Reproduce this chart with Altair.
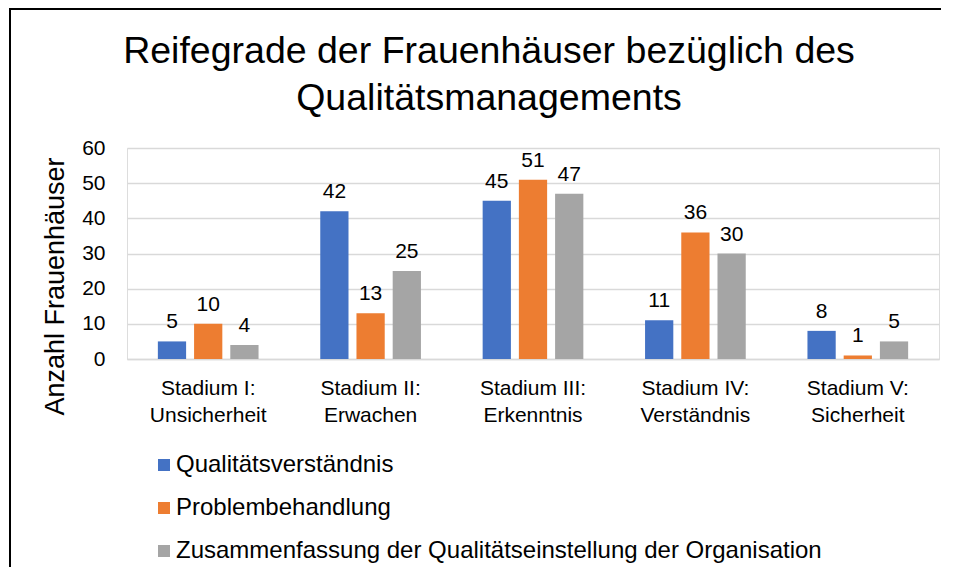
import altair as alt
import pandas as pd

categories = ["Stadium I: Unsicherheit", "Stadium II: Erwachen", "Stadium III: Erkenntnis",
              "Stadium IV: Verständnis", "Stadium V: Sicherheit"]
series = ["Qualitätsverständnis", "Problembehandlung",
          "Zusammenfassung der Qualitätseinstellung der Organisation"]
qualitaetsverstaendnis = [5, 42, 45, 11, 8]
problembehandlung = [10, 13, 51, 36, 1]
zusammenfassung = [4, 25, 47, 30, 5]
colors = ["#4472C4", "#ED7D31", "#A5A5A5"]
y_ticks = [0, 10, 20, 30, 40, 50, 60]

rows = []
for s, vals in zip(series, [qualitaetsverstaendnis, problembehandlung, zusammenfassung]):
    for c, v in zip(categories, vals):
        rows.append({"Stadium": c, "Serie": s, "Wert": v})
df = pd.DataFrame(rows)

FONT = "Liberation Sans"

x_enc = alt.X("Stadium:N", sort=categories,
              scale=alt.Scale(paddingInner=0.38, paddingOuter=0.19),
              axis=alt.Axis(title=None, labelAngle=0, ticks=False, domain=True,
                            domainColor="#d9d9d9", domainWidth=1.5,
                            labelFontSize=21, labelFont=FONT, labelColor="#000000",
                            labelPadding=18, labelLineHeight=27,
                            labelExpr="[slice(datum.label, 0, indexof(datum.label, ':') + 1), slice(datum.label, indexof(datum.label, ':') + 2)]"))
xoff_enc = alt.XOffset("Serie:N", sort=series,
                       scale=alt.Scale(paddingInner=0.22, paddingOuter=0))
y_enc = alt.Y("Wert:Q", scale=alt.Scale(domain=[0, 60], nice=False),
              axis=alt.Axis(title="Anzahl Frauenhäuser", values=y_ticks, ticks=False,
                            domain=False, grid=True, gridColor="#d9d9d9", gridWidth=1.5,
                            labelFontSize=21, labelFont=FONT, labelColor="#000000",
                            labelPadding=22, labelOverlap=False,
                            titleFontSize=27, titleFont=FONT,
                            titleFontWeight="normal", titleColor="#000000",
                            titlePadding=12, titleY=138))

bars = alt.Chart(df).mark_bar().encode(
    x=x_enc, xOffset=xoff_enc, y=y_enc,
    color=alt.Color("Serie:N", sort=series,
                    scale=alt.Scale(domain=series, range=colors),
                    legend=alt.Legend(title=None, orient="none", legendX=25, legendY=305,
                                      direction="vertical", symbolType="square",
                                      symbolSize=144, symbolStrokeWidth=0,
                                      labelFontSize=24, labelFont=FONT, labelColor="#000000",
                                      labelOffset=0, rowPadding=19, padding=0,
                                      labelLimit=1000)),
)

labels = alt.Chart(df).mark_text(baseline="alphabetic", dy=-13, fontSize=21, font=FONT,
                                 color="#000000").encode(
    x=x_enc, xOffset=xoff_enc, y=y_enc, text="Wert:Q")

one = pd.DataFrame({"a": [0]})
border_left = alt.Chart(one).mark_rule(color="#000000", strokeWidth=2).encode(
    x=alt.value(-117), y=alt.value(-139), y2=alt.value(419))
border_top = alt.Chart(one).mark_rule(color="#000000", strokeWidth=2).encode(
    x=alt.value(-118), x2=alt.value(814), y=alt.value(-139))

chart = alt.layer(bars, labels, border_left, border_top).properties(
    width=812, height=211,
    padding=0,
    title=alt.TitleParams(["Reifegrade der Frauenhäuser bezüglich des", "Qualitätsmanagements"],
                          fontSize=37.5, font=FONT, fontWeight="normal", color="#000000",
                          anchor="middle", frame="group", dx=-44, offset=-109, lineHeight=47),
).configure_view(stroke=None).configure(background="white")

chart.save("out.html", embed_options={"renderer": "svg", "actions": False})
